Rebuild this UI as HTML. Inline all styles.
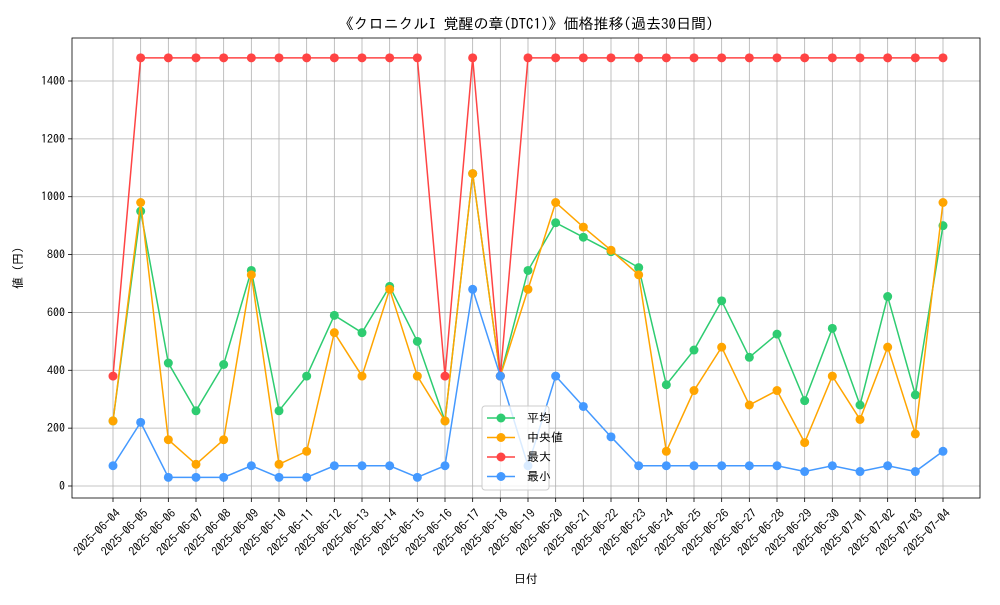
<!DOCTYPE html>
<html><head><meta charset="utf-8">
<style>
html,body{margin:0;padding:0;background:#fff;}
svg text{font-family:"IPAGothic","Noto Sans CJK JP",sans-serif;fill:#000;}
</style></head>
<body>
<svg id="chart" width="1000" height="600" xmlns="http://www.w3.org/2000/svg">
<rect width="1000" height="600" fill="#fff"/>
<text x="526" y="29" font-size="15" text-anchor="middle">《クロニクルI 覚醒の章(DTC1)》価格推移(過去30日間)</text>
<g id="grid"></g>
<g id="axes"></g>
<g id="series"></g>
<text x="526" y="583" font-size="12" text-anchor="middle">日付</text>
<text transform="translate(22,268) rotate(-90)" font-size="12" text-anchor="middle">値 (円)</text>
<g id="legend"></g>
</svg>
<script>
const dates=["2025-06-04","2025-06-05","2025-06-06","2025-06-07","2025-06-08","2025-06-09","2025-06-10","2025-06-11","2025-06-12","2025-06-13","2025-06-14","2025-06-15","2025-06-16","2025-06-17","2025-06-18","2025-06-19","2025-06-20","2025-06-21","2025-06-22","2025-06-23","2025-06-24","2025-06-25","2025-06-26","2025-06-27","2025-06-28","2025-06-29","2025-06-30","2025-07-01","2025-07-02","2025-07-03","2025-07-04"];
const avgValues=[225,950,425,260,420,745,260,380,590,530,690,500,225,1080,380,745,910,860,810,755,350,470,640,445,525,295,545,280,655,315,900];
const medianValues=[225,980,160,75,160,730,75,120,530,380,680,380,225,1080,380,680,980,895,815,730,120,330,480,280,330,150,380,230,480,180,980];
const maxValues=[380,1480,1480,1480,1480,1480,1480,1480,1480,1480,1480,1480,380,1480,380,1480,1480,1480,1480,1480,1480,1480,1480,1480,1480,1480,1480,1480,1480,1480,1480];
const minValues=[70,220,30,30,30,70,30,30,70,70,70,30,70,680,380,70,380,275,170,70,70,70,70,70,70,50,70,50,70,50,120];
const yTicks=[0,200,400,600,800,1000,1200,1400];
const seriesNames=["平均","中央値","最大","最小"];

const NS="http://www.w3.org/2000/svg";
const L=72,R=980,T=38,B=498;
const xS=i=>113+i*(943-113)/(dates.length-1);
const yS=v=>486-v*(486-81)/1400;
function mk(tag,attrs,parent){const e=document.createElementNS(NS,tag);for(const k in attrs)e.setAttribute(k,attrs[k]);parent.appendChild(e);return e;}
const grid=document.getElementById('grid'),axes=document.getElementById('axes'),ser=document.getElementById('series'),leg=document.getElementById('legend');
dates.forEach((d,i)=>{
  const x=xS(i);
  const g=mk('line',{x1:x,x2:x,y1:T,y2:B,stroke:'#b0b0b0','stroke-width':0.8},grid);
  
  const t=mk('line',{x1:x,x2:x,y1:B,y2:B+4,stroke:'#000','stroke-width':0.8},axes);
  
  const ax=x+8,ay=B+16;
  const tx=mk('text',{x:ax,y:ay,'font-size':12,'text-anchor':'end',transform:`rotate(-45 ${ax} ${ay})`},axes);
  tx.textContent=d;
  
});
yTicks.forEach(v=>{
  const y=yS(v);
  const g=mk('line',{x1:L,x2:R,y1:y,y2:y,stroke:'#b0b0b0','stroke-width':0.8},grid);
  
  const t=mk('line',{x1:L-4,x2:L,y1:y,y2:y,stroke:'#000','stroke-width':0.8},axes);
  
  const tx=mk('text',{x:L-7,y:y+4,'font-size':12,'text-anchor':'end'},axes);
  tx.textContent=v;
  
});
const frame=mk('rect',{x:L,y:T,width:R-L,height:B-T,fill:'none',stroke:'#000','stroke-width':0.8},axes);

const all=[avgValues,medianValues,maxValues,minValues];
const colors=['#2ecc71','#ffa500','#ff4444','#4499ff'];
const sNames=['avg','median','max','min'];
all.forEach((vals,s)=>{
  const g=mk('g',{},ser);
  
  const p=mk('polyline',{points:vals.map((v,i)=>xS(i)+','+yS(v)).join(' '),fill:'none',stroke:colors[s],'stroke-width':1.5},g);
  
  vals.forEach((v,i)=>{
    const c=mk('circle',{cx:xS(i),cy:yS(v),r:4.5,fill:colors[s]},g);
    
  });
});
const lb=mk('rect',{x:482,y:406,width:67,height:84,rx:3,fill:'#fff','fill-opacity':0.8,stroke:'#ccc'},leg);

seriesNames.forEach((n,s)=>{
  const y=418+s*19.5;
  const g=mk('g',{},leg);
  
  mk('line',{x1:487,x2:515,y1:y,y2:y,stroke:colors[s],'stroke-width':1.5},g);
  mk('circle',{cx:501,cy:y,r:4.5,fill:colors[s]},g);
  const t=mk('text',{x:527,y:y+4,'font-size':12},g);t.textContent=n;
});
</script>
</body></html>
